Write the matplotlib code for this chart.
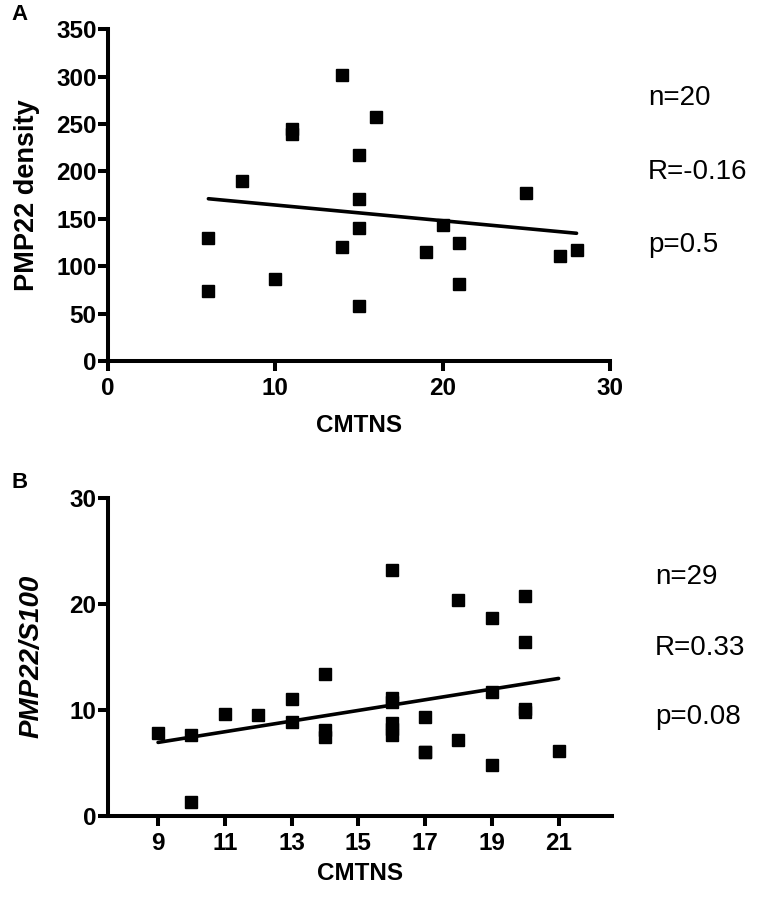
import numpy as np
import matplotlib
matplotlib.use('Agg')
import matplotlib.pyplot as plt

plt.rcParams['font.family'] = ['Liberation Sans', 'DejaVu Sans']

# panel A data
a_cmtns = [6, 6, 8, 10, 11, 11, 14, 14, 15, 15, 15, 15, 16, 19, 20, 21, 21, 25, 27, 28]
a_density = [130, 74, 190, 86, 245, 239, 302, 120, 217, 171, 140, 58, 257, 115, 143, 125, 81, 177, 111, 117]
a_stats = ['n=20', 'R=-0.16', 'p=0.5']

# panel B data
b_cmtns = [9, 10, 10, 11, 12, 13, 13, 14, 14, 14,
           16, 16, 16, 16, 16, 16, 17, 17, 17, 18,
           18, 19, 19, 19, 20, 20, 20, 20, 21]
b_ratio = [7.85, 7.6, 1.35, 9.6, 9.5, 11.0, 8.86, 13.35, 8.1, 7.4,
           23.2, 11.1, 10.75, 8.8, 8.2, 7.6, 9.36, 6.06, 6.06, 20.4,
           7.16, 18.7, 11.65, 4.84, 20.7, 16.4, 10.1, 9.8, 6.13]
b_stats = ['n=29', 'R=0.33', 'p=0.08']

W, H = 774, 899


def px(x, y):
    # pixel position -> figure fraction
    return x / W, 1 - y / H


def style_axes(ax):
    for s in ['top', 'right']:
        ax.spines[s].set_visible(False)
    for s in ['left', 'bottom']:
        ax.spines[s].set_linewidth(2.9)
    ax.tick_params(direction='out', length=7.2, width=2.9, labelsize=17.5)
    ax.tick_params(axis='y', pad=1)
    ax.tick_params(axis='x', pad=4)
    for lab in ax.get_xticklabels() + ax.get_yticklabels():
        lab.set_fontweight('bold')


def scatter_fit(ax, x, y):
    x = np.asarray(x, dtype=float)
    y = np.asarray(y, dtype=float)
    ax.plot(x, y, 's', color='black', markersize=8.6, clip_on=False, zorder=3)
    k, b = np.polyfit(x, y, 1)
    xs = np.array([x.min(), x.max()])
    ax.plot(xs, k * xs + b, color='black', lw=2.6, solid_capstyle='round', zorder=2)


fig = plt.figure(figsize=(W / 100, H / 100), dpi=100)

# ---- A ----
axA = fig.add_axes([108 / W, 1 - 361 / H, 502 / W, (361 - 29.3) / H])
scatter_fit(axA, a_cmtns, a_density)
axA.set_xlim(0, 30)
axA.set_ylim(0, 350)
axA.set_xticks([0, 10, 20, 30])
axA.set_yticks(np.arange(0, 351, 50))
style_axes(axA)
axA.set_xlabel('CMTNS', fontsize=17.5, fontweight='bold', va='center')
axA.xaxis.set_label_coords(0.5, (361 - 425) / (361 - 29.3))
axA.set_ylabel('PMP22 density', fontsize=19.5, fontweight='bold', va='center')
axA.yaxis.set_label_coords((27 - 108) / 502, 0.5)

for txt, yy in zip(a_stats, [98, 172, 245]):
    fig.text(*px(648, yy), txt, fontsize=20, ha='left', va='center')
fig.text(*px(20, 15), 'A', fontsize=16, fontweight='bold', ha='center', va='center')

# ---- B ----
axB = fig.add_axes([108 / W, 1 - 816 / H, 504 / W, (816 - 497.7) / H])
scatter_fit(axB, b_cmtns, b_ratio)
axB.set_xlim(7.5, 22.6)
axB.set_ylim(0, 30)
axB.set_xticks(np.arange(9, 22, 2))
axB.set_yticks([0, 10, 20, 30])
style_axes(axB)
axB.set_xlabel('CMTNS', fontsize=17.5, fontweight='bold', va='center')
axB.xaxis.set_label_coords(0.5, (816 - 873) / (816 - 497.7))
axB.set_ylabel('PMP22/S100', fontsize=20, fontweight='bold', style='italic', va='center')
axB.yaxis.set_label_coords((32 - 108) / 504, 0.5)

for txt, yy in zip(b_stats, [577, 648, 717]):
    fig.text(*px(655, yy), txt, fontsize=20, ha='left', va='center')
fig.text(*px(20, 483), 'B', fontsize=16, fontweight='bold', ha='center', va='center')

fig.savefig('out.png', dpi=100)
